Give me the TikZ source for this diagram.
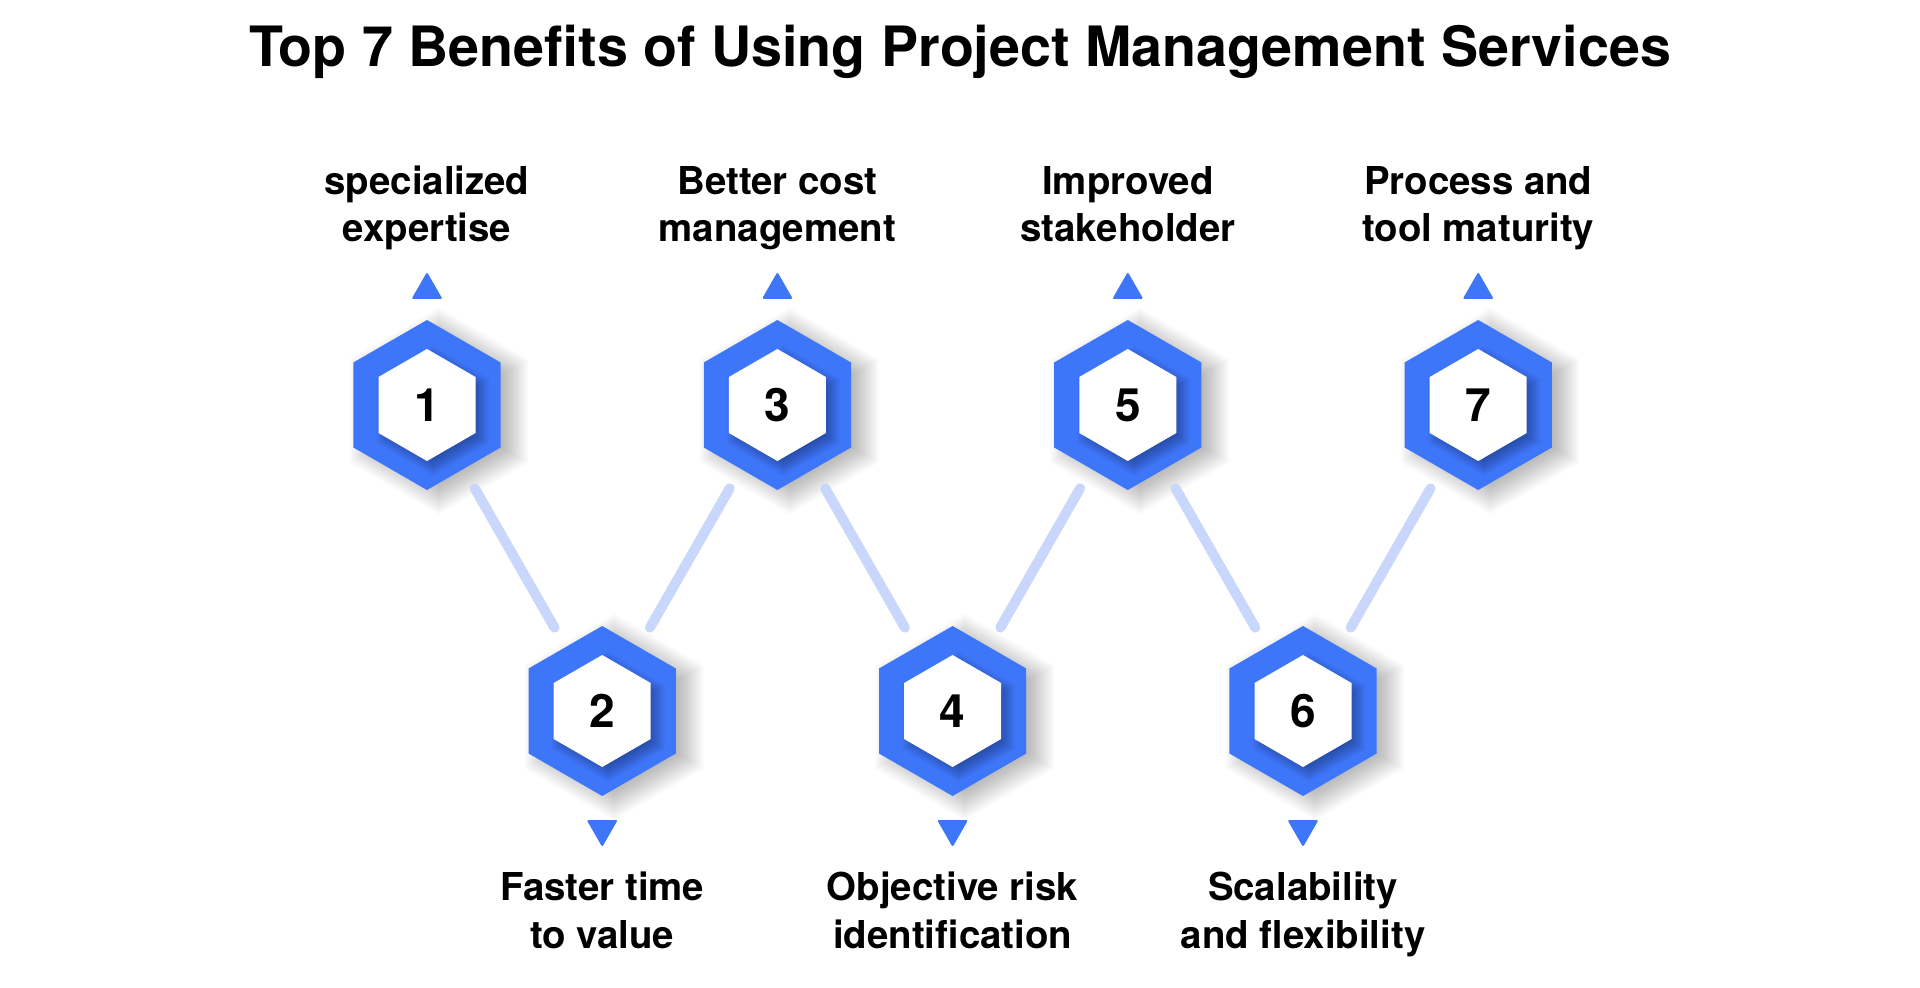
\documentclass[tikz,border=0pt]{standalone}
\usepackage{fontspec}
\setmainfont{TeX Gyre Heros}
\usetikzlibrary{shapes.geometric,calc}
\definecolor{hexblue}{RGB}{62,118,250}
\definecolor{linkblue}{RGB}{200,215,251}
\begin{document}
\begin{tikzpicture}[x=0.5pt,y=-0.5pt,
  hexout/.style={regular polygon, regular polygon sides=6, shape border rotate=30,
    minimum size=85pt, inner sep=0pt, fill=hexblue},
  hexin/.style={regular polygon, regular polygon sides=6, shape border rotate=30,
    minimum size=56pt, inner sep=0pt, fill=white, text=black,
    font=\fontsize{23}{23}\selectfont\bfseries},
  shadowlayer/.style={fill=black, opacity=0.021},
  innershade/.style={fill=black, opacity=0.033},
  link/.style={draw=linkblue, line width=5pt, line cap=round, shorten <=11pt, shorten >=11pt},
  tri/.style={fill=hexblue, rounded corners=1pt},
  lbl/.style={anchor=base, align=center, inner sep=0pt, font=\fontsize{19.2}{23.8}\selectfont\bfseries},
  ttl/.style={anchor=base, inner sep=0pt, font=\fontsize{27.8}{30}\selectfont\bfseries}]
\useasboundingbox (0,0) rectangle (1920,988);
\fill[white] (0,0) rectangle (1920,988);
\node[ttl] (title) at (960,67) {Top 7 Benefits of Using Project Management Services};
\foreach \i/\x/\y in {1/427/405,2/602.2/711,3/777.4/405,4/952.6/711,5/1127.8/405,6/1303/711,7/1478.2/405}{
  \foreach \k in {0,...,15}{
    \pgfmathsetmacro\r{70+2.2*\k}
    \fill[shadowlayer] (\x+12,\y+6) +(90:\r) -- +(30:\r) -- +(-30:\r) -- +(-90:\r) -- +(-150:\r) -- +(150:\r) -- cycle;
  }
  \node[hexout] (h\i) at (\x,\y) {};
  \foreach \k in {0,...,10}{
    \pgfmathsetmacro\r{48+1.7*\k}
    \fill[innershade] (\x+6,\y+6) +(90:\r) -- +(30:\r) -- +(-30:\r) -- +(-90:\r) -- +(-150:\r) -- +(150:\r) -- cycle;
  }
  \node[hexin] (n\i) at (h\i) {\i};
}
\foreach \a/\b in {1/2,2/3,3/4,4/5,5/6,6/7}{
  \draw[link] (h\a) -- (h\b);
}
\foreach \i in {1,3,5,7}{
  \fill[tri] ($(h\i)+(0,-133)$) -- ++(15.5,27) -- ++(-31,0) -- cycle;
}
\foreach \i in {2,4,6}{
  \fill[tri] ($(h\i)+(0,136)$) -- ++(15.5,-27) -- ++(-31,0) -- cycle;
}
\node[lbl] (l1) at (427,242) {specialized\\expertise};
\node[lbl] (l3) at (777.4,242) {Better cost\\management};
\node[lbl] (l5) at (1127.8,242) {Improved\\stakeholder};
\node[lbl] (l7) at (1478.2,242) {Process and\\tool maturity};
\node[lbl] (l2) at (602.2,948) {Faster time\\to value};
\node[lbl] (l4) at (952.6,948) {Objective risk\\identification};
\node[lbl] (l6) at (1303,948) {Scalability\\and flexibility};
\end{tikzpicture}
\end{document}
